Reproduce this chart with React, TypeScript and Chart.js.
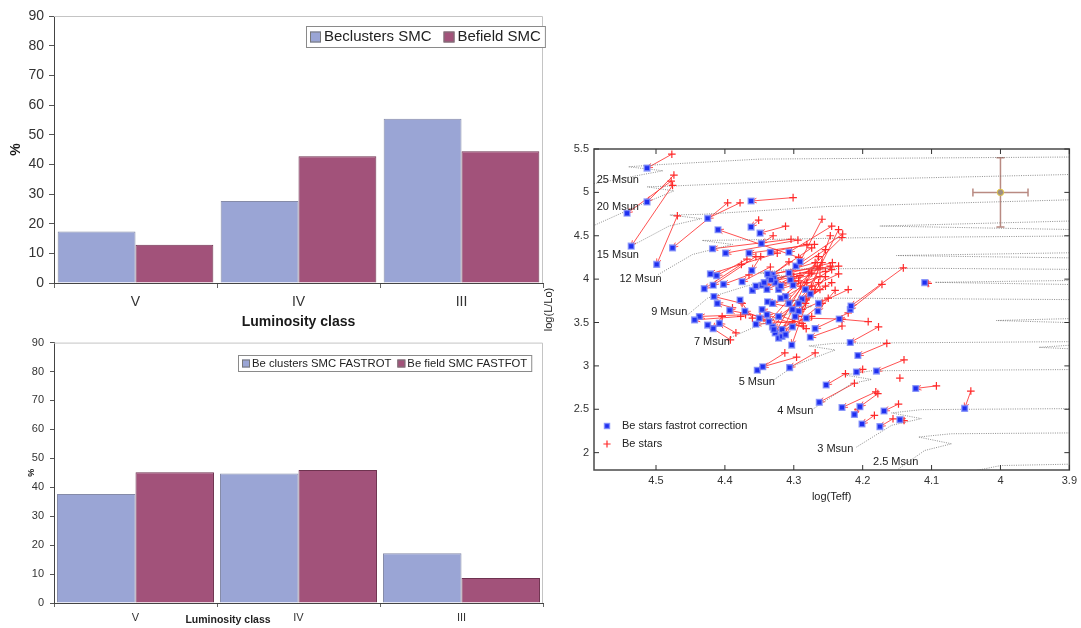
import React, { useEffect, useRef } from "react";
import { Chart, registerables } from "chart.js";

Chart.register(...registerables);
Chart.defaults.font.family = '"Liberation Sans", Arial, Helvetica, sans-serif';

// ---------- Luminosity-class distributions (%) ----------
const luminosityClasses = ["V", "IV", "III"];
const clusterShare = [17.4, 27.6, 55.4];
const fieldShare = [12.9, 42.7, 44.4];
const clusterShareFastrot = [37.7, 44.8, 17.2];
const fieldShareFastrot = [45.2, 46.0, 8.6];
const percentMax = 90;
const percentStep = 10;

// ---------- HR diagram: observed Be stars (red) and fastrot-corrected positions (blue) ----------
const beLogTeff = [
  4.477, 4.474, 4.478, 4.476, 4.469, 4.396, 4.378, 4.301, 4.351, 4.312, 4.293, 4.330, 4.245, 4.229, 4.259,
  4.304, 4.294, 4.270, 4.324, 4.348, 4.368, 4.376, 4.355, 4.365, 4.334, 4.307, 4.269, 4.235, 4.244, 4.254,
  4.230, 4.262, 4.235, 4.264, 4.281, 4.293, 4.300, 4.172, 4.141, 4.105, 4.262, 4.240, 4.221, 4.282, 4.250,
  4.375, 4.389, 4.370, 4.377, 4.349, 4.339, 4.360, 4.404, 4.384, 4.392, 4.286, 4.288, 4.282, 4.302, 4.293,
  4.230, 4.192, 4.177, 4.230, 4.221, 4.165, 4.313, 4.269, 4.296, 4.225, 4.212, 4.200, 4.140, 4.181, 4.178,
  4.148, 4.183, 4.156, 4.140, 4.093, 4.043, 4.146, 4.207,
  4.274, 4.254, 4.266, 4.245, 4.259, 4.254, 4.274, 4.278, 4.264, 4.254, 4.283, 4.274, 4.290, 4.269, 4.259,
  4.288, 4.245, 4.274, 4.247, 4.235, 4.281, 4.262, 4.247, 4.291,
];
const beLogL = [
  5.44, 5.20, 5.13, 5.08, 4.73, 4.88, 4.88, 4.94, 4.68, 4.61, 4.25, 4.50, 4.61, 4.52, 4.69,
  4.46, 4.45, 4.40, 4.30, 4.26, 4.23, 4.17, 4.26, 4.05, 4.14, 4.20, 4.19, 4.15, 4.19, 4.09,
  4.48, 4.03, 4.06, 3.96, 3.96, 3.98, 4.03, 3.94, 4.13, 3.95, 3.88, 3.87, 3.88, 3.76, 3.78,
  3.72, 3.67, 3.59, 3.57, 3.57, 3.52, 3.55, 3.57, 3.38, 3.30, 3.46, 3.49, 3.43, 3.51, 3.57,
  3.54, 3.51, 3.45, 3.46, 3.61, 3.26, 3.15, 3.15, 3.10, 2.91, 2.80, 2.96, 3.07, 2.70, 2.68,
  2.56, 2.43, 2.39, 2.37, 2.77, 2.71, 2.86, 2.50,
  4.36, 4.34, 4.15, 4.11, 4.19, 3.92, 3.92, 4.07, 4.26, 4.03, 3.72, 3.57, 3.92, 3.88, 3.72,
  3.65, 3.96, 4.07, 4.50, 4.57, 4.40, 4.13, 4.15, 4.04,
];
const fastrotLogTeff = [
  4.513, 4.513, 4.542, 4.536, 4.499, 4.476, 4.425, 4.362, 4.362, 4.349, 4.410, 4.347, 4.307, 4.297, 4.291,
  4.418, 4.399, 4.365, 4.421, 4.361, 4.412, 4.430, 4.417, 4.402, 4.375, 4.360, 4.331, 4.329, 4.307, 4.305,
  4.301, 4.322, 4.283, 4.276, 4.355, 4.346, 4.339, 4.218, 4.217, 4.110, 4.288, 4.265, 4.264, 4.338, 4.293,
  4.416, 4.411, 4.437, 4.444, 4.393, 4.371, 4.378, 4.417, 4.408, 4.425, 4.350, 4.346, 4.339, 4.355, 4.317,
  4.282, 4.234, 4.218, 4.276, 4.269, 4.207, 4.353, 4.306, 4.345, 4.253, 4.263, 4.209, 4.180, 4.230, 4.204,
  4.169, 4.201, 4.175, 4.146, 4.123, 4.052, null, 4.212,
  4.336, 4.327, 4.319, 4.312, 4.307, 4.302, 4.331, 4.327, 4.322, 4.317, 4.312, 4.329, 4.336, 4.322, 4.302,
  4.331, 4.293, 4.319, 4.303, 4.298, 4.334, 4.338, 4.333, 4.343,
];
const fastrotLogL = [
  5.28, 4.89, 4.76, 4.38, 4.17, 4.36, 4.70, 4.90, 4.60, 4.53, 4.57, 4.41, 4.31, 4.15, 4.20,
  4.35, 4.30, 4.30, 4.06, 4.10, 4.04, 3.89, 3.93, 3.94, 3.97, 3.87, 4.05, 4.01, 4.07, 3.99,
  3.93, 3.88, 3.88, 3.83, 3.92, 3.93, 3.88, 3.65, 3.69, 3.96, 3.77, 3.63, 3.72, 3.74, 3.63,
  3.80, 3.72, 3.57, 3.53, 3.64, 3.63, 3.76, 3.43, 3.49, 3.47, 3.55, 3.65, 3.59, 3.48, 3.42,
  3.55, 3.54, 3.27, 3.33, 3.43, 3.12, 2.95, 2.98, 2.99, 2.78, 2.58, 2.93, 2.94, 2.52, 2.53,
  2.48, 2.33, 2.30, 2.38, 2.74, 2.51, null, 2.44,
  4.03, 3.96, 3.92, 3.80, 3.72, 3.65, 3.45, 3.38, 3.32, 3.34, 3.36, 3.42, 3.51, 3.57, 3.45,
  3.72, 3.72, 3.78, 3.24, 3.57, 4.31, 4.06, 3.99, 3.96,
];

const teffTicks = [4.5, 4.4, 4.3, 4.2, 4.1, 4, 3.9];
const lumTicks = [2, 2.5, 3, 3.5, 4, 4.5, 5, 5.5];

// Evolutionary tracks (log Teff, log L); the blue loops run in from beyond the cool edge
const trackLogTeff = [
  [4.59, 4.49, 4.54, 4.497, 4.348, 3.85],
  [4.592, 4.529, 4.474, 4.513, 4.471, 4.302, 3.85],
  [4.536, 4.481, 4.434, 4.48, 4.433, 4.254, 3.85],
  [4.497, 4.447, 4.389, 4.433, 4.389, 4.206, 3.85, 3.85, 4.175, 3.85],
  [4.454, 4.425, 4.37, 4.312, 4.351, 4.302, 4.11, 3.85, 3.85, 4.151, 3.85],
  [4.394, 4.327, 4.274, 4.312, 4.274, 3.85, 3.85, 4.095, 3.85],
  [4.328, 4.298, 4.24, 4.278, 4.24, 3.85, 3.85, 4.006, 3.85],
  [4.271, 4.216, 4.187, 4.226, 4.187, 3.85, 3.85, 3.944, 3.85],
  [4.209, 4.158, 4.115, 4.158, 4.115, 3.85],
  [4.148, 4.11, 4.071, 4.119, 4.071, 3.85],
  [4.04, 4.0, 3.85],
];
const trackLogL = [
  [5.1, 5.249, 5.295, 5.319, 5.384, 5.41],
  [4.612, 4.836, 5.017, 5.064, 5.075, 5.133, 5.215],
  [4.38, 4.612, 4.697, 4.739, 4.747, 4.836, 4.925],
  [4.052, 4.284, 4.4, 4.446, 4.45, 4.477, 4.5, 4.68, 4.612, 4.565],
  [3.589, 3.782, 3.917, 4.033, 4.071, 4.118, 4.125, 4.11, 4.31, 4.272, 4.24],
  [3.319, 3.55, 3.685, 3.743, 3.782, 3.762, 3.99, 3.963, 3.932],
  [2.844, 3.01, 3.183, 3.23, 3.261, 3.282, 3.555, 3.523, 3.488],
  [2.508, 2.797, 2.844, 2.894, 2.944, 2.96, 3.265, 3.214, 3.178],
  [2.064, 2.315, 2.392, 2.458, 2.496, 2.51],
  [1.813, 2.025, 2.102, 2.18, 2.218, 2.23],
  [1.786, 1.851, 1.875],
];
const trackLabelText = ["25 Msun", "20 Msun", "15 Msun", "12 Msun", "9 Msun", "7 Msun", "5 Msun", "4 Msun", "3 Msun", "2.5 Msun"];
const trackLabelTeff = [4.586, 4.586, 4.586, 4.553, 4.507, 4.445, 4.38, 4.324, 4.266, 4.185];
const trackLabelLogL = [5.14, 4.83, 4.28, 4.0, 3.62, 3.27, 2.81, 2.48, 2.04, 1.89];

// Typical uncertainty
const errorLogTeff = 4.0;
const errorLogL = 5.0;
const errorDTeff = 0.04;
const errorDLogL = 0.4;

// ---------- colours ----------
const BAR_BLUE = "#9aa5d5";
const BAR_PLUM = "#a2527a";
const STAR_RED = "#ff2a2a";
const STAR_BLUE = "#1f2ff0";
const STAR_BLUE_HALO = "rgba(120,135,250,0.75)";
const TRACK_GRAY = "rgba(105,105,105,0.75)";
const ERROR_COLOR = "#b98a82";

// ---------- plugins ----------
const barFrame = {
  id: "barFrame",
  afterDraw(chart: any) {
    const { ctx, chartArea: a } = chart;
    ctx.save();
    ctx.strokeStyle = "#c4c4c4";
    ctx.lineWidth = 1;
    ctx.beginPath();
    ctx.moveTo(a.left, a.top + 0.5);
    ctx.lineTo(a.right - 0.5, a.top + 0.5);
    ctx.lineTo(a.right - 0.5, a.bottom);
    ctx.stroke();
    ctx.restore();
  },
};

const boxedLegend = {
  id: "boxedLegend",
  afterDraw(chart: any, _args: any, o: any) {
    if (!o || !o.display) return;
    const { ctx } = chart;
    const ds = chart.data.datasets;
    ctx.save();
    ctx.font = `${o.fontSize}px "Liberation Sans", Arial, sans-serif`;
    const widths = ds.map((d: any) => ctx.measureText(d.label).width);
    let inner = 0;
    ds.forEach((_d: any, i: number) => (inner += o.swatch + o.gap + widths[i]));
    inner += o.itemGap * (ds.length - 1);
    const w = inner + o.pad * 2;
    const x0 = Math.round(o.right - w);
    ctx.fillStyle = "#fff";
    ctx.fillRect(x0, o.top, w, o.height);
    ctx.strokeStyle = "#8a8a8a";
    ctx.lineWidth = 1;
    ctx.strokeRect(x0 + 0.5, o.top + 0.5, w, o.height);
    let x = x0 + o.pad;
    const cy = o.top + o.height / 2 + 0.5;
    ds.forEach((d: any, i: number) => {
      ctx.fillStyle = d.backgroundColor;
      ctx.fillRect(x, cy - o.swatch / 2, o.swatch, o.swatch);
      ctx.strokeStyle = "#777";
      ctx.strokeRect(x + 0.5, cy - o.swatch / 2 + 0.5, o.swatch - 1, o.swatch - 1);
      x += o.swatch + o.gap;
      ctx.fillStyle = "#222";
      ctx.textBaseline = "middle";
      ctx.textAlign = "left";
      ctx.fillText(d.label, x, cy);
      x += widths[i] + o.itemGap;
    });
    ctx.restore();
  },
};

const axisNote = {
  id: "axisNote",
  afterDraw(chart: any, _args: any, o: any) {
    if (!o || !o.text) return;
    const { ctx } = chart;
    ctx.save();
    ctx.font = `bold ${o.fontSize}px "Liberation Sans", Arial, sans-serif`;
    ctx.fillStyle = "#222";
    ctx.textAlign = "center";
    ctx.textBaseline = "middle";
    ctx.fillText(o.text, o.x, o.y);
    ctx.restore();
  },
};

type BarSpec = {
  a: number[];
  b: number[];
  names: [string, string];
  padTop: number;
  xAxisH: number;
  tickSize: number;
  tickLen: number;
  xTickPad: number;
  yTickPad: number;
  categoryPct: number;
  yTitleSize: number;
  yTitlePad: number;
  xTitle?: { size: number; padBottom: number };
  note?: { text: string; x: number; y: number; fontSize: number };
  legend: { right: number; top: number; height: number; fontSize: number; swatch: number; gap: number; itemGap: number; pad: number };
};

function barConfig(s: BarSpec): any {
  return {
    type: "bar",
    data: {
      labels: luminosityClasses,
      datasets: [
        { label: s.names[0], data: s.a, backgroundColor: BAR_BLUE, borderColor: "#858ba8", borderWidth: 1 },
        { label: s.names[1], data: s.b, backgroundColor: BAR_PLUM, borderColor: "#6f3350", borderWidth: 1 },
      ],
    },
    options: {
      animation: false,
      responsive: false,
      devicePixelRatio: 1,
      events: [],
      layout: { padding: { top: s.padTop, right: 10, left: 0, bottom: 0 } },
      datasets: { bar: { barPercentage: 1, categoryPercentage: s.categoryPct } },
      plugins: {
        legend: { display: false },
        tooltip: { enabled: false },
        boxedLegend: { display: true, ...s.legend },
        axisNote: s.note || {},
      },
      scales: {
        x: {
          grid: { display: true, drawOnChartArea: false, offset: true, tickLength: s.tickLen, color: "#666" },
          border: { color: "#444", width: 1 },
          ticks: { font: { size: s.tickSize }, color: "#333", padding: s.xTickPad },
          title: s.xTitle
            ? {
                display: true,
                text: "Luminosity class",
                color: "#1a1a1a",
                font: { size: s.xTitle.size, weight: "bold" },
                padding: { top: 0, bottom: s.xTitle.padBottom },
              }
            : { display: false },
          afterFit: (sc: any) => {
            sc.height = s.xAxisH;
          },
        },
        y: {
          min: 0,
          max: percentMax,
          ticks: { stepSize: percentStep, font: { size: s.tickSize }, color: "#333", padding: s.yTickPad },
          grid: { display: true, drawOnChartArea: false, tickLength: s.tickLen, color: "#555" },
          border: { color: "#444", width: 1 },
          title: {
            display: true,
            text: "%",
            color: "#1a1a1a",
            font: { size: s.yTitleSize, weight: "bold" },
            padding: { top: s.yTitlePad, bottom: s.yTitlePad },
          },
          afterFit: (sc: any) => {
            sc.width = 54;
          },
        },
      },
    },
    plugins: [barFrame, boxedLegend, axisNote],
  };
}

function pix(chart: any, tx: number, ly: number) {
  return [chart.scales.x.getPixelForValue(tx), chart.scales.y.getPixelForValue(ly)];
}

const fastrotArrows = {
  id: "fastrotArrows",
  beforeDatasetsDraw(chart: any) {
    const { ctx, chartArea: a } = chart;
    ctx.save();
    ctx.beginPath();
    ctx.rect(a.left, a.top, a.width, a.height);
    ctx.clip();
    ctx.strokeStyle = "rgba(255,50,50,0.85)";
    ctx.lineWidth = 1;
    for (let i = 0; i < beLogTeff.length; i++) {
      const tx = fastrotLogTeff[i];
      const ty = fastrotLogL[i];
      if (tx == null || ty == null) continue;
      const [x0, y0] = pix(chart, beLogTeff[i], beLogL[i]);
      const [x1, y1] = pix(chart, tx, ty);
      ctx.beginPath();
      ctx.moveTo(x0, y0);
      ctx.lineTo(x1, y1);
      ctx.stroke();
      const ang = Math.atan2(y1 - y0, x1 - x0);
      const len = 6;
      const spread = 0.4;
      ctx.beginPath();
      ctx.moveTo(x1 - len * Math.cos(ang - spread), y1 - len * Math.sin(ang - spread));
      ctx.lineTo(x1, y1);
      ctx.lineTo(x1 - len * Math.cos(ang + spread), y1 - len * Math.sin(ang + spread));
      ctx.stroke();
    }
    ctx.restore();
  },
};

const errorCross = {
  id: "errorCross",
  beforeDatasetsDraw(chart: any) {
    const { ctx } = chart;
    const [cx, cy] = pix(chart, errorLogTeff, errorLogL);
    const [xl] = pix(chart, errorLogTeff + errorDTeff, errorLogL);
    const [xr] = pix(chart, errorLogTeff - errorDTeff, errorLogL);
    const [, yt] = pix(chart, errorLogTeff, errorLogL + errorDLogL);
    const [, yb] = pix(chart, errorLogTeff, errorLogL - errorDLogL);
    const cap = 4;
    ctx.save();
    ctx.strokeStyle = ERROR_COLOR;
    ctx.lineWidth = 1.5;
    ctx.beginPath();
    ctx.moveTo(xl, cy);
    ctx.lineTo(xr, cy);
    ctx.moveTo(cx, yt);
    ctx.lineTo(cx, yb);
    ctx.moveTo(xl, cy - cap);
    ctx.lineTo(xl, cy + cap);
    ctx.moveTo(xr, cy - cap);
    ctx.lineTo(xr, cy + cap);
    ctx.moveTo(cx - cap, yt);
    ctx.lineTo(cx + cap, yt);
    ctx.moveTo(cx - cap, yb);
    ctx.lineTo(cx + cap, yb);
    ctx.stroke();
    ctx.restore();
  },
};

const gnuFrame = {
  id: "gnuFrame",
  afterDatasetsDraw(chart: any) {
    const { ctx, chartArea: a } = chart;
    ctx.save();
    ctx.strokeStyle = "#4a4a4a";
    ctx.lineWidth = 1.5;
    ctx.strokeRect(a.left, a.top, a.width, a.height);
    ctx.lineWidth = 1;
    ctx.strokeStyle = "#333";
    const t = 5;
    ctx.beginPath();
    teffTicks.forEach((v) => {
      const px = chart.scales.x.getPixelForValue(v);
      ctx.moveTo(px, a.bottom);
      ctx.lineTo(px, a.bottom - t);
      ctx.moveTo(px, a.top);
      ctx.lineTo(px, a.top + t);
    });
    lumTicks.forEach((v) => {
      const py = chart.scales.y.getPixelForValue(v);
      ctx.moveTo(a.left, py);
      ctx.lineTo(a.left + t, py);
      ctx.moveTo(a.right, py);
      ctx.lineTo(a.right - t, py);
    });
    ctx.stroke();
    ctx.restore();
  },
};

const trackLabels = {
  id: "trackLabels",
  afterDatasetsDraw(chart: any) {
    const { ctx } = chart;
    ctx.save();
    ctx.font = '11px "Liberation Sans", Arial, sans-serif';
    ctx.fillStyle = "#222";
    ctx.textAlign = "left";
    ctx.textBaseline = "middle";
    trackLabelText.forEach((txt, i) => {
      const [x, y] = pix(chart, trackLabelTeff[i], trackLabelLogL[i]);
      ctx.fillText(txt, x, y);
    });
    ctx.restore();
  },
};

const starLegend = {
  id: "starLegend",
  afterDraw(chart: any) {
    const { ctx, chartArea: a } = chart;
    const ds = chart.data.datasets;
    const fast = ds.find((d: any) => d.pointStyle === "rect");
    const be = ds.find((d: any) => d.pointStyle === "cross");
    const mx = a.left + 13;
    const y1 = a.bottom - 44;
    const y2 = a.bottom - 26;
    ctx.save();
    ctx.fillStyle = STAR_BLUE;
    ctx.strokeStyle = STAR_BLUE_HALO;
    ctx.lineWidth = 1.5;
    ctx.fillRect(mx - 2.5, y1 - 2.5, 5, 5);
    ctx.strokeRect(mx - 2.5, y1 - 2.5, 5, 5);
    ctx.strokeStyle = STAR_RED;
    ctx.lineWidth = 1.2;
    ctx.beginPath();
    ctx.moveTo(mx - 3.6, y2);
    ctx.lineTo(mx + 3.6, y2);
    ctx.moveTo(mx, y2 - 3.6);
    ctx.lineTo(mx, y2 + 3.6);
    ctx.stroke();
    ctx.font = '11px "Liberation Sans", Arial, sans-serif';
    ctx.fillStyle = "#222";
    ctx.textAlign = "left";
    ctx.textBaseline = "middle";
    ctx.fillText(fast.label, a.left + 28, y1);
    ctx.fillText(be.label, a.left + 28, y2);
    ctx.restore();
  },
};

function hrConfig(): any {
  const tracks = trackLogTeff.map((xs, k) => ({
    label: "track",
    data: xs.map((x, i) => ({ x, y: trackLogL[k][i] })),
    showLine: true,
    pointRadius: 0,
    borderColor: TRACK_GRAY,
    borderWidth: 1,
    borderDash: [1, 1.3],
    clip: 0,
    order: 10,
  }));
  const observed = beLogTeff.map((x, i) => ({ x, y: beLogL[i] }));
  const corrected = fastrotLogTeff
    .map((x, i) => ({ x, y: fastrotLogL[i] }))
    .filter((p) => p.x != null && p.y != null);
  return {
    type: "scatter",
    data: {
      datasets: [
        ...tracks,
        {
          label: "Be stars",
          data: observed,
          pointStyle: "cross",
          pointRadius: 3.8,
          borderColor: STAR_RED,
          backgroundColor: STAR_RED,
          borderWidth: 1.2,
          order: 3,
        },
        {
          label: "Be stars fastrot correction",
          data: corrected,
          pointStyle: "rect",
          pointRadius: 3.9,
          backgroundColor: STAR_BLUE,
          borderColor: STAR_BLUE_HALO,
          borderWidth: 1.6,
          order: 2,
        },
        {
          label: "error",
          data: [{ x: errorLogTeff, y: errorLogL }],
          pointRadius: 3.2,
          backgroundColor: "#9d8f84",
          borderColor: "#e3c845",
          borderWidth: 1,
          order: 1,
        },
      ],
    },
    options: {
      animation: false,
      responsive: false,
      devicePixelRatio: 1,
      events: [],
      layout: { padding: { top: 19, right: 10, left: 0, bottom: 0 } },
      plugins: { legend: { display: false }, tooltip: { enabled: false } },
      scales: {
        x: {
          type: "linear",
          min: 3.9,
          max: 4.59,
          reverse: true,
          grid: { display: false, drawTicks: false, tickLength: 0 },
          border: { display: false },
          afterBuildTicks: (sc: any) => {
            sc.ticks = teffTicks.map((v) => ({ value: v }));
          },
          ticks: { font: { size: 11 }, color: "#333", padding: 4, autoSkip: false, maxRotation: 0, callback: (v: any) => String(v) },
          title: { display: true, text: "log(Teff)", color: "#222", font: { size: 11 }, padding: { top: 0, bottom: 6 } },
          afterFit: (sc: any) => {
            sc.height = 40;
          },
        },
        y: {
          type: "linear",
          min: 1.8,
          max: 5.5,
          grid: { display: false, drawTicks: false, tickLength: 0 },
          border: { display: false },
          afterBuildTicks: (sc: any) => {
            sc.ticks = lumTicks.map((v) => ({ value: v }));
          },
          ticks: { font: { size: 11 }, color: "#333", padding: 5, autoSkip: false, callback: (v: any) => String(v) },
          title: { display: true, text: "log(L/Lo)", color: "#222", font: { size: 11 }, padding: { top: 2, bottom: 2 } },
          afterFit: (sc: any) => {
            sc.width = 54;
          },
        },
      },
    },
    plugins: [fastrotArrows, errorCross, gnuFrame, trackLabels, starLegend],
  };
}

function ChartCanvas(props: { left: number; top: number; width: number; height: number; build: () => any }) {
  const ref = useRef<HTMLCanvasElement | null>(null);
  useEffect(() => {
    const chart = new Chart(ref.current as HTMLCanvasElement, props.build());
    return () => chart.destroy();
  }, []);
  return (
    <canvas
      ref={ref}
      width={props.width}
      height={props.height}
      style={{ position: "absolute", left: props.left, top: props.top, width: props.width, height: props.height }}
    />
  );
}

export default function App() {
  return (
    <div style={{ position: "fixed", left: 0, top: 0, width: 1081, height: 628, background: "#fff", overflow: "hidden" }}>
      <ChartCanvas
        left={0}
        top={0}
        width={553}
        height={340}
        build={() =>
          barConfig({
            a: clusterShare,
            b: fieldShare,
            names: ["Beclusters SMC", "Befield SMC"],
            padTop: 16,
            xAxisH: 57,
            tickSize: 14,
            tickLen: 5,
            xTickPad: 6,
            yTickPad: 5,
            categoryPct: 0.955,
            yTitleSize: 14,
            yTitlePad: 7.6,
            xTitle: { size: 14, padBottom: 9.6 },
            legend: { right: 545, top: 26, height: 21, fontSize: 15, swatch: 11, gap: 3, itemGap: 12, pad: 4 },
          })
        }
      />
      <ChartCanvas
        left={0}
        top={330}
        width={553}
        height={298}
        build={() =>
          barConfig({
            a: clusterShareFastrot,
            b: fieldShareFastrot,
            names: ["Be clusters SMC FASTROT", "Be field SMC FASTFOT"],
            padTop: 12,
            xAxisH: 25,
            tickSize: 11,
            tickLen: 4,
            xTickPad: 4,
            yTickPad: 6,
            categoryPct: 0.963,
            yTitleSize: 9,
            yTitlePad: 26,
            note: { text: "Luminosity class", x: 228, y: 290, fontSize: 10.5 },
            legend: { right: 531, top: 25, height: 16, fontSize: 11.3, swatch: 8, gap: 2, itemGap: 6, pad: 4 },
          })
        }
      />
      <ChartCanvas left={540} top={130} width={541} height={380} build={hrConfig} />
    </div>
  );
}
